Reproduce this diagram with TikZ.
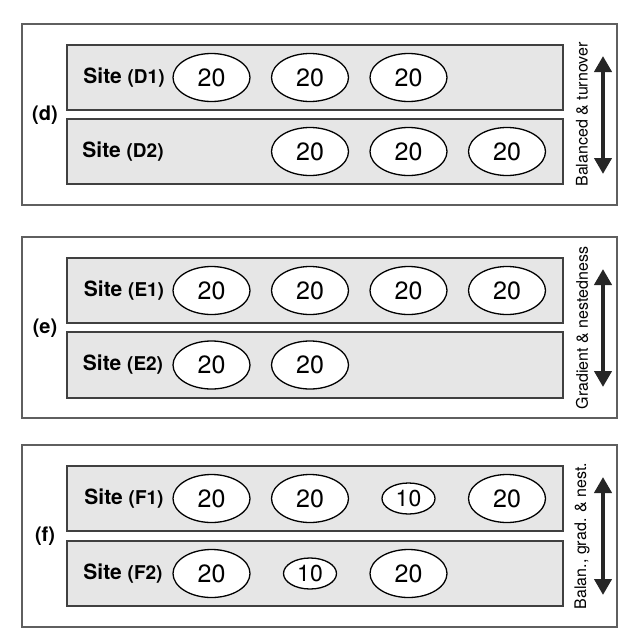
\documentclass[tikz,border=0pt]{standalone}
\usepackage{fontspec}
\setmainfont{TeX Gyre Heros}
\usetikzlibrary{arrows.meta,shapes.geometric}

\definecolor{rowgray}{RGB}{230,230,230}
\definecolor{framegray}{RGB}{95,95,95}

\begin{document}
\begin{tikzpicture}[x=1pt,y=-1pt,
   >={Triangle[length=16pt,width=17pt]},
   panel/.style={draw=framegray,line width=1.5pt},
   row/.style={draw=black!75,fill=rowgray,line width=1.6pt},
   big/.style={ellipse,draw,fill=white,line width=1.3pt,minimum width=77pt,
     minimum height=48pt,inner sep=0pt,font=\fontsize{25}{25}\selectfont},
   small/.style={ellipse,draw,fill=white,line width=1.3pt,minimum width=53pt,
     minimum height=31pt,inner sep=0pt,font=\fontsize{23}{23}\selectfont},
   site/.style={font=\fontsize{21}{21}\selectfont\bfseries},
   tag/.style={font=\fontsize{20}{20}\selectfont\bfseries},
   side/.style={rotate=90,font=\fontsize{16}{16}\selectfont},
   updown/.style={<->,line width=4pt,black!85}]
   \useasboundingbox (0,0) rectangle (629,640);

   % panel (d)
   \draw[panel] (22,24) rectangle (617,205);
   \draw[row] (67,45) rectangle (563,110);
   \draw[row] (67,119) rectangle (563,184);
   \node[tag] (d) at (45,115) {(d)};
   \node[site] (sd1) at (124,77.5) {Site {\fontsize{19}{19}\selectfont(D1)}};
   \node[site] (sd2) at (123,151.5) {Site {\fontsize{19}{19}\selectfont(D2)}};
   \node[big] (d1a) at (211.5,77.5) {20};
   \node[big] (d1b) at (310,77.5) {20};
   \node[big] (d1c) at (408.5,77.5) {20};
   \node[big] (d2a) at (310,151.5) {20};
   \node[big] (d2b) at (408.5,151.5) {20};
   \node[big] (d2c) at (507,151.5) {20};
   \node[side] (td) at (582,114.5) {Balanced \& turnover};
   \coordinate (dtop) at (603,56);
   \coordinate (dbot) at (603,174);
   \draw[updown] (dtop) -- (dbot);

   % panel (e)
   \draw[panel] (22,237) rectangle (617,418);
   \draw[row] (67,258) rectangle (563,323);
   \draw[row] (67,332) rectangle (563,398);
   \node[tag] (e) at (45,328) {(e)};
   \node[site] (se1) at (124,290.5) {Site {\fontsize{19}{19}\selectfont(E1)}};
   \node[site] (se2) at (123,365) {Site {\fontsize{19}{19}\selectfont(E2)}};
   \node[big] (e1a) at (211.5,290.5) {20};
   \node[big] (e1b) at (310,290.5) {20};
   \node[big] (e1c) at (408.5,290.5) {20};
   \node[big] (e1d) at (507,290.5) {20};
   \node[big] (e2a) at (211.5,365) {20};
   \node[big] (e2b) at (310,365) {20};
   \node[side] (te) at (582,328) {Gradient \& nestedness};
   \coordinate (etop) at (603,269);
   \coordinate (ebot) at (603,387);
   \draw[updown] (etop) -- (ebot);

   % panel (f)
   \draw[panel] (22,445) rectangle (617,627);
   \draw[row] (67,466) rectangle (563,531);
   \draw[row] (67,541) rectangle (563,606);
   \node[tag] (f) at (45,536) {(f)};
   \node[site] (sf1) at (124,498.5) {Site {\fontsize{19}{19}\selectfont(F1)}};
   \node[site] (sf2) at (123,573.5) {Site {\fontsize{19}{19}\selectfont(F2)}};
   \node[big] (f1a) at (211.5,498.5) {20};
   \node[big] (f1b) at (310,498.5) {20};
   \node[small] (f1c) at (408.5,498.5) {10};
   \node[big] (f1d) at (507,498.5) {20};
   \node[big] (f2a) at (211.5,573.5) {20};
   \node[small] (f2b) at (310,573.5) {10};
   \node[big] (f2c) at (408.5,573.5) {20};
   \node[side] (tf) at (582,536) {Balan., grad. \& nest.};
   \coordinate (ftop) at (603,477);
   \coordinate (fbot) at (603,595);
   \draw[updown] (ftop) -- (fbot);
\end{tikzpicture}
\end{document}
